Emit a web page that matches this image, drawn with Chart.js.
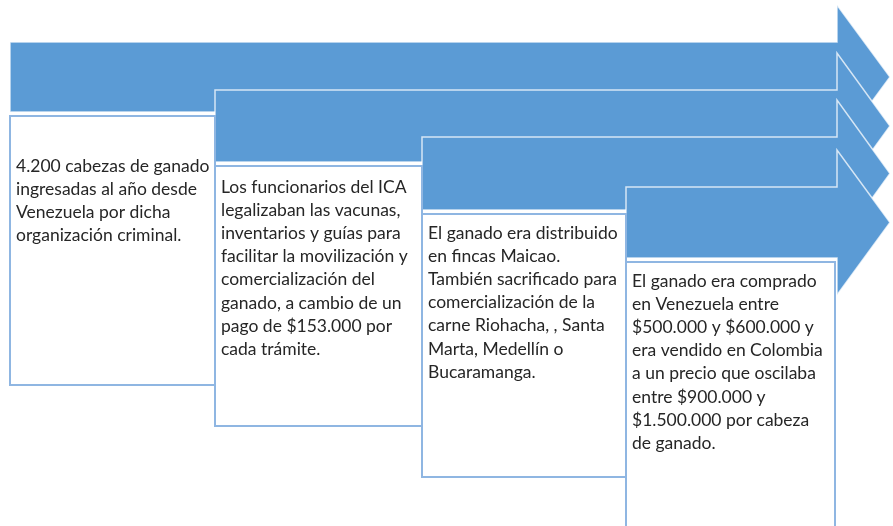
<!DOCTYPE html>
<html>
<head>
<meta charset="utf-8">
<script src="https://cdn.jsdelivr.net/npm/chart.js@4"></script>
<style>
  html, body { margin: 0; padding: 0; background: #fff; }
  #lienzo { display: block; }
</style>
</head>
<body>
<canvas id="lienzo" width="893" height="526"></canvas>
<script>
// textos de cada paso (una linea por elemento)
const paso1 = [
  '4.200 cabezas de ganado',
  'ingresadas al año desde',
  'Venezuela por dicha',
  'organización criminal.'
];
const paso2 = [
  'Los funcionarios del ICA',
  'legalizaban las vacunas,',
  'inventarios y guías para',
  'facilitar la movilización y',
  'comercialización del',
  'ganado, a cambio de un',
  'pago de $153.000 por',
  'cada trámite.'
];
const paso3 = [
  'El ganado era distribuido',
  'en fincas Maicao.',
  'También sacrificado para',
  'comercialización de la',
  'carne Riohacha, , Santa',
  'Marta, Medellín o',
  'Bucaramanga.'
];
const paso4 = [
  'El ganado era comprado',
  'en Venezuela entre',
  '$500.000 y $600.000 y',
  'era vendido en Colombia',
  'a un precio que oscilaba',
  'entre $900.000 y',
  '$1.500.000 por cabeza',
  'de ganado.'
];
const pasos = [paso1, paso2, paso3, paso4];

// geometria del diagrama (unidades de los ejes ocultos)
const layout = {
  izquierda: [10, 215, 422, 626],
  arriba: [42, 90, 137, 187],
  abajo: [112, 162, 210, 258],
  finCuerpo: 837,
  punta: 890,
  alaPunta: 37,
  cajaDerecha: 835,
  cajaAbajo: [385, 426, 477, 560],
  textoInicio: [50, 21, 19, 19],
  interlinea: 23.2
};

const AZUL = '#5b9bd5';
const BORDE = '#8fb6e2';

const diagrama = {
  id: 'diagrama',
  afterDraw(chart) {
    const ctx = chart.ctx;
    const X = v => chart.scales.x.getPixelForValue(v);
    const Y = v => chart.scales.y.getPixelForValue(v);
    ctx.save();

    // flechas
    pasos.forEach((p, i) => {
      const l = layout.izquierda[i];
      const t = layout.arriba[i];
      const b = layout.abajo[i];
      const c = (t + b) / 2;
      ctx.beginPath();
      ctx.moveTo(X(l), Y(t));
      ctx.lineTo(X(layout.finCuerpo), Y(t));
      ctx.lineTo(X(layout.finCuerpo), Y(t - layout.alaPunta));
      ctx.lineTo(X(layout.punta), Y(c));
      ctx.lineTo(X(layout.finCuerpo), Y(b + layout.alaPunta));
      ctx.lineTo(X(layout.finCuerpo), Y(b));
      ctx.lineTo(X(l), Y(b));
      ctx.closePath();
      ctx.fillStyle = AZUL;
      ctx.fill();
      ctx.strokeStyle = 'rgba(255,255,255,0.75)';
      ctx.lineWidth = 1.5;
      ctx.stroke();
    });

    // cajas de texto
    pasos.forEach((p, i) => {
      const l = layout.izquierda[i];
      const r = i < 3 ? layout.izquierda[i + 1] : layout.cajaDerecha;
      const t = layout.abajo[i] + 4;
      const b = layout.cajaAbajo[i];
      ctx.fillStyle = '#fff';
      ctx.fillRect(X(l), Y(t), X(r) - X(l), Y(b) - Y(t));
      ctx.strokeStyle = BORDE;
      ctx.lineWidth = 2;
      ctx.strokeRect(X(l), Y(t), X(r) - X(l), Y(b) - Y(t));

      ctx.fillStyle = '#262626';
      ctx.font = '17.5px Lato, "Open Sans", sans-serif';
      ctx.textBaseline = 'middle';
      ctx.textAlign = 'left';
      p.forEach((linea, k) => {
        ctx.fillText(linea, X(l + 6), Y(t + layout.textoInicio[i] + k * layout.interlinea));
      });
    });

    ctx.restore();
  }
};

new Chart(document.getElementById('lienzo'), {
  type: 'scatter',
  data: { datasets: [{ data: [] }] },
  options: {
    responsive: false,
    animation: false,
    layout: { padding: 0 },
    plugins: { legend: { display: false }, tooltip: { enabled: false } },
    scales: {
      x: { type: 'linear', min: 0, max: 893, display: false },
      y: { type: 'linear', min: 0, max: 526, reverse: true, display: false }
    }
  },
  plugins: [diagrama]
});
</script>
</body>
</html>
